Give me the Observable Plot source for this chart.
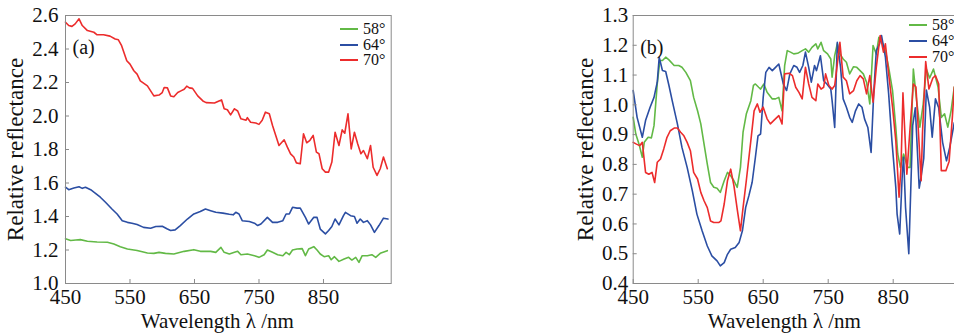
<!DOCTYPE html>
<html>
<head>
<meta charset="utf-8">
<script src="https://cdn.jsdelivr.net/npm/d3@7"></script>
<script src="https://cdn.jsdelivr.net/npm/@observablehq/plot@0.6"></script>
<style>
  html, body { margin: 0; padding: 0; background: #fff; }
  body { width: 954px; height: 333px; overflow: hidden; position: relative; font-family: "Liberation Serif", serif; }
  .panel { position: absolute; top: 0; }
  .panel svg { max-width: none !important; }
  .leg { position: absolute; display: flex; align-items: center; height: 14px; line-height: 14px; font-size: 16px; color: #111; white-space: nowrap; font-family: "Liberation Serif", serif; }
  .leg span.ln { display: inline-block; width: 18px; height: 2px; margin-right: 5px; }
</style>
</head>
<body>
<div id="pa" class="panel" style="left:0px;width:400px"></div>
<div id="pb" class="panel" style="left:560px;width:406px"></div>
<script>
// ---------- data ----------
const seriesNames = ["58°", "64°", "70°"];
const seriesColors = ["#62b946", "#2b4ea3", "#ec2c2c"];
const xTicks = [450, 550, 650, 750, 850];
const yTicksA = [1.0, 1.2, 1.4, 1.6, 1.8, 2.0, 2.2, 2.4, 2.6];
const yTicksB = [0.4, 0.5, 0.6, 0.7, 0.8, 0.9, 1.0, 1.1, 1.2, 1.3];
const xLabel = "Wavelength λ /nm";
const yLabel = "Relative reflectance";
const panelLabels = ["(a)", "(b)"];

// panel (a): [wavelength nm, relative reflectance]
const a58 = [[450,1.267],[458,1.257],[466,1.26],[473,1.262],[484,1.252],[499,1.248],[515,1.246],[525,1.236],[535,1.22],[546,1.206],[561,1.197],[577,1.182],[587,1.18],[595,1.186],[605,1.18],[618,1.176],[634,1.192],[649,1.202],[659,1.192],[675,1.192],[683,1.186],[691,1.216],[696,1.186],[704,1.176],[712,1.186],[717,1.192],[722,1.172],[732,1.176],[743,1.166],[750,1.156],[758,1.172],[763,1.2],[771,1.186],[779,1.172],[787,1.166],[792,1.186],[797,1.172],[802,1.2],[809,1.206],[817,1.208],[822,1.166],[827,1.206],[835,1.22],[840,1.2],[845,1.176],[851,1.16],[858,1.166],[862,1.142],[867,1.16],[874,1.132],[882,1.146],[889,1.156],[894,1.14],[900,1.156],[905,1.126],[910,1.166],[918,1.166],[925,1.172],[931,1.156],[938,1.18],[949,1.196]];
const a64 = [[450,1.575],[455,1.56],[463,1.57],[471,1.578],[476,1.568],[481,1.575],[489,1.56],[496,1.54],[504,1.515],[512,1.485],[522,1.445],[530,1.415],[538,1.375],[546,1.365],[553,1.36],[561,1.352],[571,1.335],[582,1.33],[590,1.34],[600,1.342],[608,1.325],[613,1.316],[620,1.32],[628,1.346],[639,1.385],[649,1.415],[659,1.43],[667,1.445],[675,1.435],[683,1.425],[694,1.42],[704,1.413],[710,1.41],[714,1.425],[719,1.415],[724,1.375],[735,1.37],[743,1.36],[748,1.346],[753,1.355],[763,1.395],[771,1.365],[779,1.365],[787,1.375],[792,1.415],[797,1.415],[802,1.455],[809,1.45],[814,1.45],[822,1.395],[827,1.355],[835,1.395],[840,1.395],[845,1.325],[853,1.296],[858,1.316],[863,1.34],[868,1.385],[874,1.35],[881,1.405],[884,1.425],[892,1.405],[898,1.40],[902,1.36],[907,1.385],[912,1.365],[918,1.375],[923,1.35],[929,1.305],[936,1.346],[943,1.39],[950,1.385]];
const a70 = [[450,2.56],[455,2.54],[460,2.535],[465,2.55],[471,2.58],[476,2.54],[484,2.51],[494,2.50],[499,2.485],[509,2.485],[519,2.477],[527,2.46],[532,2.455],[537,2.42],[545,2.33],[550,2.31],[556,2.27],[561,2.25],[566,2.21],[577,2.18],[582,2.15],[587,2.12],[595,2.125],[600,2.14],[603,2.17],[608,2.168],[613,2.12],[618,2.115],[624,2.14],[629,2.15],[634,2.16],[638,2.178],[642,2.168],[647,2.165],[655,2.12],[663,2.09],[668,2.08],[681,2.078],[688,2.09],[692,2.096],[696,2.043],[701,2.037],[706,2.007],[712,2.043],[717,2.03],[722,1.983],[730,1.975],[732,1.99],[737,1.963],[745,1.958],[750,1.95],[755,1.975],[760,2.023],[766,2.013],[771,1.943],[776,1.884],[781,1.824],[789,1.858],[794,1.814],[799,1.774],[804,1.755],[808,1.72],[814,1.715],[819,1.894],[824,1.84],[829,1.855],[834,1.884],[839,1.784],[843,1.775],[848,1.685],[853,1.665],[858,1.665],[863,1.725],[868,1.903],[874,1.824],[879,1.917],[883,1.897],[888,2.013],[893,1.804],[898,1.903],[903,1.834],[908,1.775],[912,1.794],[918,1.745],[923,1.824],[927,1.694],[933,1.645],[938,1.685],[943,1.755],[949,1.685]];

// panel (b)
const b58 = [[450,0.958],[454,0.902],[459,0.868],[464,0.824],[467,0.874],[473,0.891],[478,0.889],[482,0.93],[487,1.07],[491,1.149],[495,1.149],[500,1.16],[505,1.151],[513,1.132],[520,1.132],[525,1.126],[531,1.109],[538,1.081],[543,1.025],[549,0.98],[554,0.936],[559,0.868],[564,0.801],[569,0.739],[574,0.723],[579,0.72],[584,0.706],[590,0.745],[595,0.773],[600,0.762],[605,0.745],[610,0.723],[615,0.79],[619,0.908],[624,0.969],[631,1.014],[635,1.065],[638,1.07],[643,1.059],[646,1.053],[651,1.07],[656,1.042],[664,1.02],[669,1.02],[674,1.025],[679,0.98],[683,1.132],[687,1.182],[692,1.177],[697,1.171],[703,1.173],[710,1.182],[715,1.188],[720,1.177],[725,1.193],[731,1.205],[734,1.188],[739,1.21],[743,1.182],[749,1.171],[754,1.154],[756,1.093],[760,1.165],[764,1.205],[768,1.171],[773,1.154],[778,1.143],[783,1.104],[789,1.128],[794,1.126],[799,1.115],[804,1.104],[809,1.076],[814,1.003],[819,1.199],[824,1.171],[828,1.227],[833,1.21],[838,1.182],[843,1.126],[849,1.048],[854,0.924],[857,0.835],[861,0.79],[866,0.835],[872,0.79],[876,0.79],[881,1.12],[886,1.014],[891,0.925],[896,1.0],[901,1.12],[906,1.09],[912,1.12],[919,1.06],[924,0.958],[929,0.97],[934,0.925],[939,0.98],[944,1.06]];
const b64 = [[450,1.048],[456,0.958],[464,0.891],[469,0.947],[476,0.992],[482,1.025],[487,1.076],[490,1.16],[495,1.115],[500,1.112],[505,1.065],[510,1.014],[518,0.936],[525,0.857],[533,0.79],[541,0.711],[548,0.633],[556,0.577],[564,0.526],[571,0.493],[579,0.476],[584,0.459],[590,0.47],[595,0.498],[600,0.515],[607,0.521],[613,0.538],[618,0.577],[623,0.655],[628,0.695],[633,0.74],[638,0.824],[642,0.896],[646,0.902],[650,1.025],[654,1.109],[659,1.126],[664,1.115],[669,1.126],[674,1.137],[681,1.07],[686,1.048],[691,1.104],[697,1.132],[702,1.126],[706,1.109],[711,1.132],[715,1.177],[720,1.126],[724,1.076],[729,1.132],[732,1.115],[738,1.165],[743,1.081],[748,1.07],[754,1.053],[756,1.014],[760,0.924],[764,1.21],[769,1.126],[773,1.02],[778,0.992],[783,0.958],[787,0.941],[792,0.98],[797,1.003],[802,0.992],[806,0.952],[811,0.924],[816,0.84],[820,1.037],[824,1.182],[829,1.205],[832,1.233],[838,1.16],[843,1.037],[848,0.88],[854,0.723],[856,0.633],[860,0.566],[864,0.768],[866,0.824],[869,0.655],[874,0.5],[880,0.93],[884,0.99],[890,0.72],[893,0.76],[897,0.82],[901,1.05],[906,0.992],[910,0.891],[915,1.02],[920,0.99],[926,0.874],[932,0.812],[937,0.858],[944,0.94]];
const b70 = [[450,0.874],[455,0.868],[460,0.863],[464,0.874],[469,0.773],[474,0.767],[479,0.773],[483,0.739],[487,0.807],[492,0.818],[497,0.852],[502,0.891],[507,0.913],[513,0.922],[518,0.922],[523,0.908],[528,0.896],[533,0.874],[538,0.846],[543,0.773],[549,0.751],[554,0.706],[559,0.678],[564,0.655],[569,0.61],[574,0.605],[582,0.605],[585,0.61],[590,0.667],[595,0.745],[600,0.784],[605,0.728],[610,0.65],[615,0.577],[619,0.655],[624,0.745],[631,0.88],[636,0.98],[641,1.003],[645,0.975],[650,0.992],[656,0.953],[661,0.936],[666,0.947],[674,0.964],[679,0.936],[683,1.104],[690,1.106],[695,1.098],[700,1.059],[705,1.042],[710,1.02],[715,1.126],[720,1.07],[725,1.025],[731,1.014],[734,1.07],[739,1.053],[743,1.059],[746,1.104],[751,1.065],[756,1.053],[760,1.065],[764,1.137],[768,1.21],[773,1.093],[778,1.081],[783,1.037],[789,1.048],[794,1.081],[799,1.098],[804,1.087],[809,1.037],[814,1.098],[819,1.009],[824,1.126],[830,1.233],[835,1.177],[838,1.205],[843,1.104],[849,0.992],[854,0.88],[859,0.69],[862,0.79],[865,1.04],[871,0.767],[876,0.924],[881,1.07],[885,1.06],[893,0.745],[895,0.902],[900,1.145],[905,1.053],[911,1.09],[915,1.098],[920,1.07],[924,0.779],[931,0.779],[936,0.81],[941,0.958],[944,1.06]];

// ---------- drawing ----------
const FONT = '"Liberation Serif", "Times New Roman", serif';
function panel(el, opts) {
  const {series, yDomain, yTicks, width, marginLeft, marginRight, label, ylabelDx, xlabelDx, yTickPad} = opts;
  const marginTop = 15, marginBottom = 50, height = 333;
  const plotW = width - marginLeft - marginRight;
  const plotH = height - marginTop - marginBottom;
  const rows = [];
  series.forEach((s, i) => s.forEach(([x, y]) => rows.push({x, y, name: seriesNames[i]})));
  const chart = Plot.plot({
    width, height, marginLeft, marginRight, marginTop, marginBottom,
    style: {fontFamily: FONT, fontSize: "21px", color: "#111", background: "transparent", overflow: "visible"},
    x: {domain: [450, 955]},
    y: {domain: yDomain},
    color: {domain: seriesNames, range: seriesColors},
    marks: [
      Plot.line(rows, {x: "x", y: "y", z: "name", stroke: "name", strokeWidth: 1.6, strokeLinejoin: "round"}),
      Plot.frame({stroke: "#8a8a8a", strokeWidth: 1}),
      Plot.tickX(xTicks, {x: d => d, stroke: "#8a8a8a", insetTop: plotH - 4}),
      Plot.tickY(yTicks, {y: d => d, stroke: "#8a8a8a", insetRight: plotW - 4}),
      Plot.axisX({ticks: xTicks, tickSize: 0, tickPadding: 6, label: null, tickFormat: d3.format("d"), fontSize: 21, fontFamily: FONT}),
      Plot.axisY({ticks: yTicks, tickSize: 0, tickPadding: yTickPad, label: null, tickFormat: d3.format(".1f"), fontSize: 21, fontFamily: FONT}),
      Plot.text([xLabel], {frameAnchor: "bottom", dy: 38, dx: xlabelDx, fontSize: 21, fontFamily: FONT, textAnchor: "middle", lineAnchor: "middle", fill: "#111"}),
      Plot.text([yLabel], {frameAnchor: "left", dx: ylabelDx, rotate: -90, fontSize: 23, fontFamily: FONT, textAnchor: "middle", lineAnchor: "middle", fill: "#111"}),
      Plot.text([label], {frameAnchor: "top-left", dx: 7, dy: 32, fontSize: 20, fontFamily: FONT, textAnchor: "start", lineAnchor: "middle", fill: "#111"})
    ]
  });
  el.appendChild(chart);
}

panel(document.getElementById("pa"), {
  series: [a58, a64, a70], yDomain: [1.0, 2.6], yTicks: yTicksA,
  width: 400, marginLeft: 65, marginRight: 9.3, label: panelLabels[0],
  ylabelDx: -49.5, xlabelDx: -11, yTickPad: 7
});
panel(document.getElementById("pb"), {
  series: [b58, b64, b70], yDomain: [0.4, 1.3], yTicks: yTicksB,
  width: 406, marginLeft: 72.7, marginRight: 5.05, label: panelLabels[1],
  ylabelDx: -47.7, xlabelDx: -13, yTickPad: 5
});

// legends (inside each panel, top right)
function legend(left, top0, step) {
  seriesNames.forEach((n, i) => {
    const d = document.createElement("div");
    d.className = "leg";
    d.style.left = left + "px";
    d.style.top = (top0 + i * step - 7) + "px";
    const ln = document.createElement("span");
    ln.className = "ln";
    ln.style.background = seriesColors[i];
    d.appendChild(ln);
    d.appendChild(document.createTextNode(n));
    document.body.appendChild(d);
  });
}
legend(340, 29, 15.7);
legend(909, 25, 16);
</script>
</body>
</html>
